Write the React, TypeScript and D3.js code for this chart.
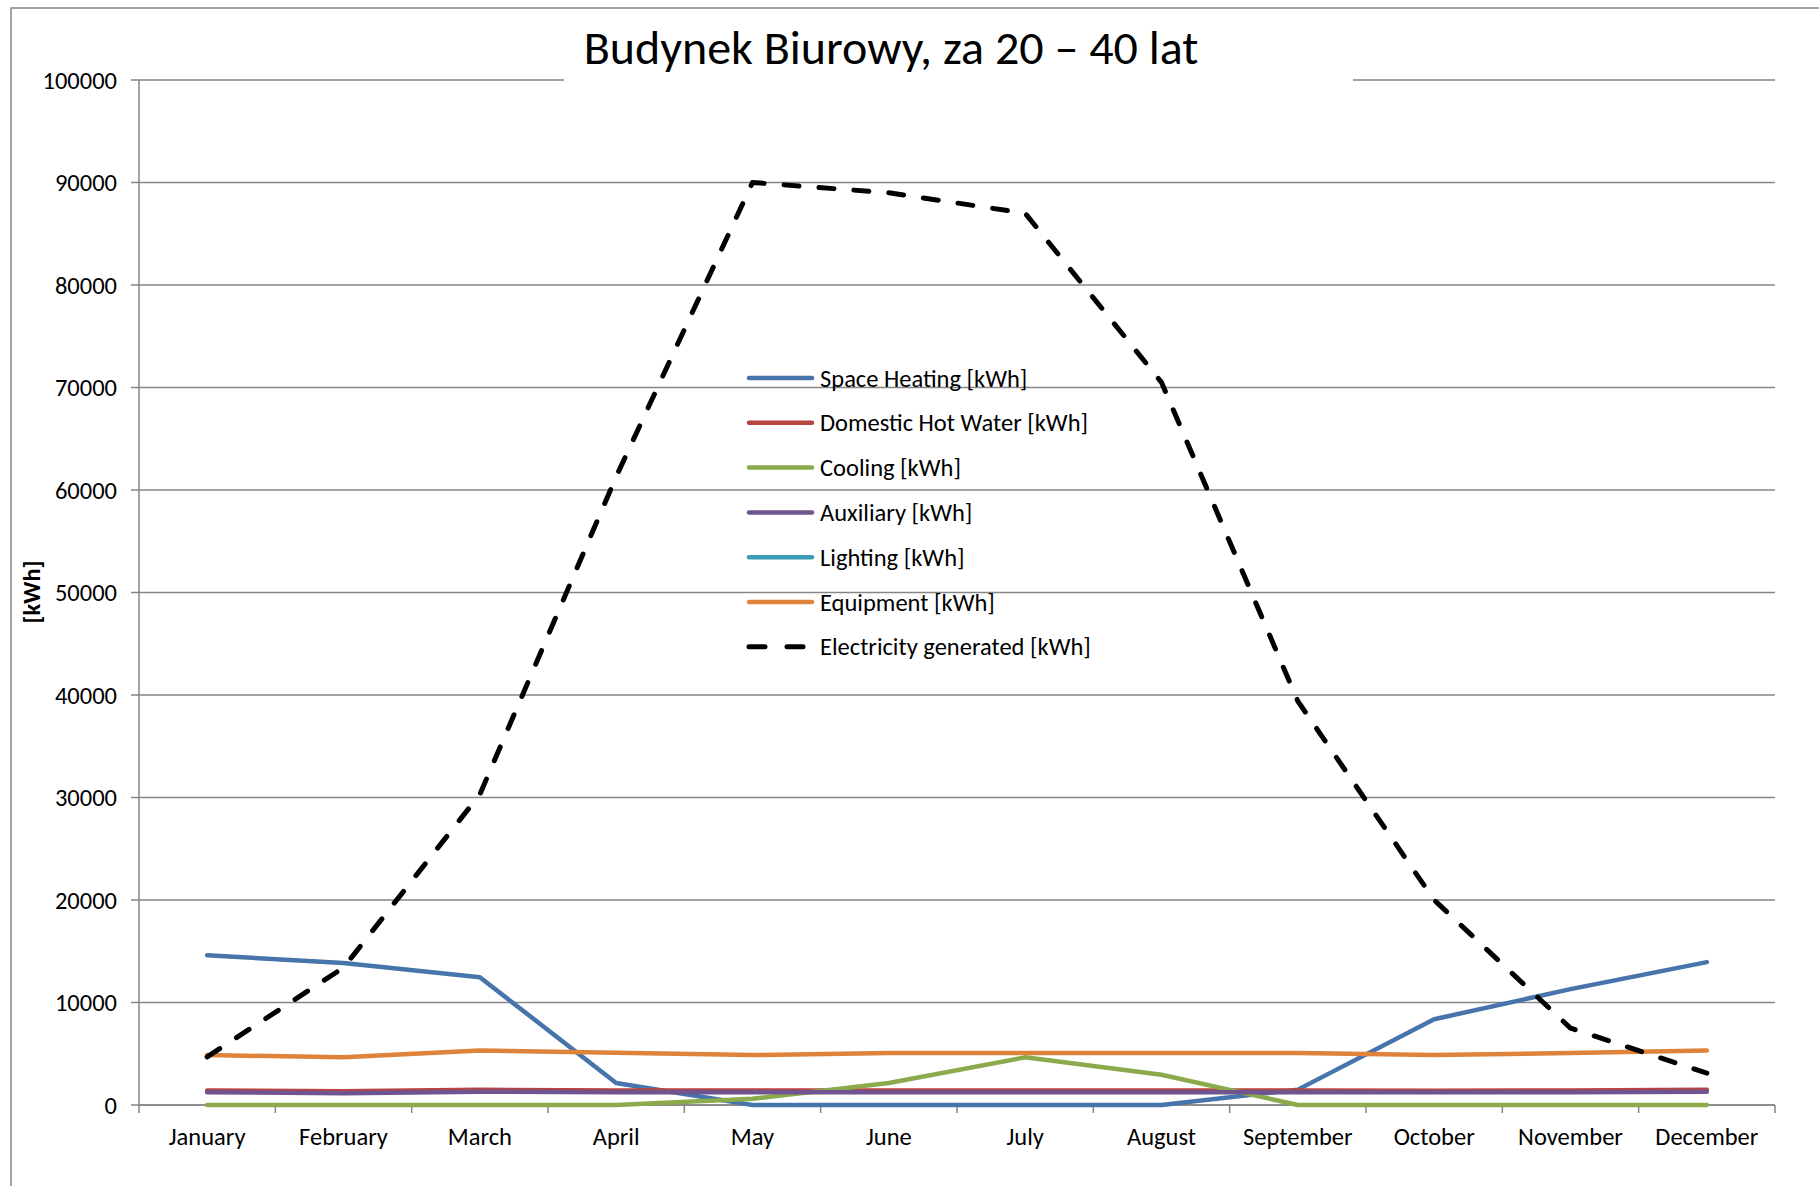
import React from 'react';
import * as d3 from 'd3';

const months = ['January', 'February', 'March', 'April', 'May', 'June', 'July', 'August', 'September', 'October', 'November', 'December'];
const spaceHeating = [14600, 13850, 12470, 2150, 0, 0, 0, 0, 1500, 8370, 11300, 13940];
const domesticHotWater = [1420, 1350, 1480, 1420, 1420, 1420, 1420, 1420, 1420, 1400, 1420, 1480];
const cooling = [0, 0, 0, 0, 600, 2150, 4650, 2950, 0, 0, 0, 0];
const auxiliary = [1250, 1150, 1300, 1250, 1250, 1250, 1250, 1250, 1250, 1250, 1250, 1300];
const lighting: number[] = []; // no visible line in the reference
const equipment = [4870, 4650, 5320, 5100, 4870, 5080, 5080, 5080, 5080, 4870, 5080, 5320];
const electricity = [4700, 13400, 30300, 61300, 90000, 89000, 87000, 70500, 39400, 20000, 7500, 3100];
const yTicks = [0, 10000, 20000, 30000, 40000, 50000, 60000, 70000, 80000, 90000, 100000];

const seriesNames = ['Space Heating [kWh]', 'Domestic Hot Water [kWh]', 'Cooling [kWh]', 'Auxiliary [kWh]', 'Lighting [kWh]', 'Equipment [kWh]', 'Electricity generated [kWh]'];
const seriesValues = [spaceHeating, domesticHotWater, cooling, auxiliary, lighting, equipment, electricity];
const seriesColors = ['#4674AB', '#B8433F', '#8AAA4B', '#6F5490', '#3F9CB6', '#DF833A', '#000000'];

const FONT = 'Carlito, Lato, "Open Sans", sans-serif';
const GRID = '#868686';

export default function App() {
  const W = 1819, H = 1186;
  const left = 139, right = 1775, top = 80, bottom = 1105;
  const x = d3.scaleBand<string>().domain(months).range([left, right]);
  const y = d3.scaleLinear().domain([0, 100000]).range([bottom, top]);
  const cx = (i: number) => (x(months[i]) as number) + x.bandwidth() / 2;
  const line = d3.line<number>().x((_, i) => cx(i)).y(d => y(d));
  const boundaries = months.map(m => x(m) as number).concat([right]);

  const legX = 749, legY = 378, legStep = 44.8;

  return (
    <svg width={W} height={H} style={{ position: 'absolute', left: 0, top: 0, background: '#fff' }} fontFamily={FONT}>
      <rect x={11} y={8} width={W} height={H + 50} fill="#fff" stroke={GRID} strokeWidth={1.5} />
      {/* gridlines */}
      {yTicks.map(t => (
        <line key={t} x1={left - 8} x2={right} y1={y(t)} y2={y(t)} stroke={GRID} strokeWidth={1.5} />
      ))}
      {/* title background */}
      <rect x={564} y={20} width={789} height={80} fill="#fff" />
      <text x={891} y={64} textAnchor="middle" fontSize={48} fill="#000">Budynek Biurowy, za 20 – 40 lat</text>
      {/* axes */}
      <line x1={left} x2={left} y1={top} y2={bottom} stroke={GRID} strokeWidth={1.5} />
      <line x1={left} x2={right} y1={bottom} y2={bottom} stroke={GRID} strokeWidth={1.5} />
      {boundaries.map((b, i) => (
        <line key={i} x1={b} x2={b} y1={bottom} y2={bottom + 8} stroke={GRID} strokeWidth={1.5} />
      ))}
      {yTicks.map(t => (
        <text key={t} x={117} y={y(t)} dy="0.35em" textAnchor="end" fontSize={24.5} fill="#000">{t}</text>
      ))}
      {months.map((m, i) => (
        <text key={m} x={cx(i)} y={1136} dy="0.35em" textAnchor="middle" fontSize={24.5} fill="#000">{m}</text>
      ))}
      <text transform={`translate(31,592) rotate(-90)`} textAnchor="middle" dy="0.35em" fontSize={24.5} fontWeight="bold" fill="#000">[kWh]</text>
      {/* series */}
      {seriesValues.map((vals, si) => vals.length ? (
        <path key={si} d={line(vals) || ''} fill="none" stroke={seriesColors[si]}
          strokeWidth={si === 6 ? 5 : 4.5}
          strokeLinecap="round" strokeLinejoin="round"
          strokeDasharray={si === 6 ? '15 20' : undefined} />
      ) : null)}
      {/* legend */}
      {seriesNames.map((n, i) => (
        <g key={n} transform={`translate(0,${legY + i * legStep})`}>
          <line x1={legX} x2={812} y1={0} y2={0} stroke={seriesColors[i]} strokeWidth={i === 6 ? 5 : 4.5}
            strokeLinecap="round" strokeDasharray={i === 6 ? '16 22' : undefined} />
          <text x={820} y={0} dy="0.35em" fontSize={24.5} fill="#000">{n}</text>
        </g>
      ))}
    </svg>
  );
}
